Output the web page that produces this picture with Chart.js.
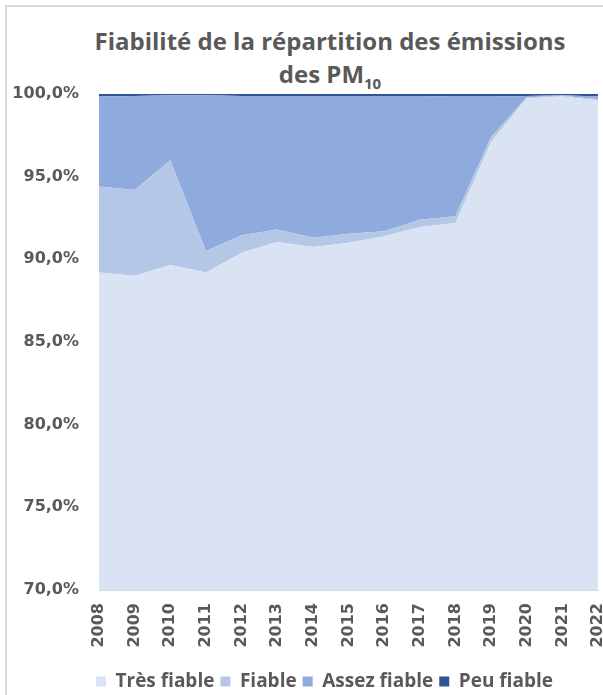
<!DOCTYPE html>
<html>
<head>
<meta charset="utf-8">
<script src="https://cdn.jsdelivr.net/npm/chart.js@4"></script>
<style>
    html, body {
        margin: 0;
        padding: 0;
        width: 603px;
        height: 695px;
        overflow: hidden;
        background: #ffffff;
    }
    .frame {
        position: absolute;
        left: 5px;
        top: 5px;
        width: 700px;
        height: 700px;
        border-top: 2px solid #d9d9d9;
        border-left: 2px solid #d9d9d9;
    }
    .chart-title {
        position: absolute;
        left: 0;
        top: 24px;
        width: 660px;
        text-align: center;
        font-family: 'Open Sans', sans-serif;
        font-weight: 700;
        font-size: 24px;
        line-height: 33px;
        color: #595959;
    }
    .chart-title sub {
        font-size: 15px;
        line-height: 0;
    }
    .chart-box {
        position: absolute;
        left: 7px;
        top: 7px;
        width: 650px;
        height: 694px;
    }
</style>
</head>
<body>
<div class="frame"></div>
<div class="chart-title">Fiabilité de la répartition des émissions<br>des PM<sub>10</sub></div>
<div class="chart-box"><canvas id="fiabiliteChart"></canvas></div>

<script>
const years = ['2008', '2009', '2010', '2011', '2012', '2013', '2014', '2015', '2016', '2017', '2018', '2019', '2020', '2021', '2022'];

// parts en %, empilées
const tresFiable = [89.2, 89.0, 89.65, 89.2, 90.4, 91.05, 90.75, 91.0, 91.4, 91.95, 92.2, 97.1, 99.75, 99.85, 99.6];
const fiable = [5.2, 5.2, 6.35, 1.3, 1.05, 0.75, 0.55, 0.55, 0.3, 0.45, 0.4, 0.3, 0.05, 0.05, 0.1];
const assezFiable = [5.45, 5.68, 3.92, 9.42, 8.43, 8.08, 8.58, 8.33, 8.18, 7.48, 7.25, 2.45, 0.08, 0.02, 0.15];
const peuFiable = [0.15, 0.12, 0.08, 0.08, 0.12, 0.12, 0.12, 0.12, 0.12, 0.12, 0.15, 0.15, 0.12, 0.08, 0.15];

const yTicks = [70, 75, 80, 85, 90, 95, 100];

const textColor = '#595959';

function areaDataset(label, values, color, fill) {
    return {
        label: label,
        data: values,
        backgroundColor: color,
        borderColor: color,
        borderWidth: 0,
        pointRadius: 0,
        tension: 0,
        fill: fill
    };
}

// décale la légende pour la centrer sous tout le cadre
const legendShift = {
    id: 'legendShift',
    afterLayout(chart) {
        chart.legend.left += 22;
        chart.legend.right += 22;
    }
};

const ctx = document.getElementById('fiabiliteChart').getContext('2d');

new Chart(ctx, {
    type: 'line',
    data: {
        labels: years,
        datasets: [
            areaDataset('Très fiable', tresFiable, '#dae3f3', 'origin'),
            areaDataset('Fiable', fiable, '#b4c7e7', '-1'),
            areaDataset('Assez fiable', assezFiable, '#8faadc', '-1'),
            areaDataset('Peu fiable', peuFiable, '#2f5597', '-1')
        ]
    },
    plugins: [legendShift],
    options: {
        responsive: true,
        maintainAspectRatio: false,
        animation: false,
        layout: {
            padding: {
                top: 87,
                left: 0,
                right: 59,
                bottom: 0
            }
        },
        plugins: {
            title: {
                display: false
            },
            tooltip: {
                enabled: false
            },
            legend: {
                position: 'bottom',
                labels: {
                    boxWidth: 10,
                    boxHeight: 10,
                    padding: 6,
                    color: textColor,
                    font: {
                        family: 'Open Sans',
                        weight: 'bold',
                        size: 19
                    }
                }
            }
        },
        scales: {
            x: {
                grid: {
                    display: false,
                    drawTicks: false
                },
                border: {
                    color: '#d9d9d9'
                },
                ticks: {
                    minRotation: 90,
                    maxRotation: 90,
                    padding: 13,
                    color: textColor,
                    font: {
                        family: 'DejaVu Sans',
                        weight: 'bold',
                        size: 16
                    }
                },
                afterFit: function (scale) {
                    scale.height = 76;
                }
            },
            y: {
                stacked: true,
                min: 70,
                max: 100,
                afterBuildTicks: function (scale) {
                    scale.ticks = yTicks.map(v => ({ value: v }));
                },
                grid: {
                    display: false,
                    drawTicks: false
                },
                border: {
                    display: false
                },
                ticks: {
                    padding: 20,
                    color: textColor,
                    font: {
                        family: 'DejaVu Sans',
                        weight: 'bold',
                        size: 16
                    },
                    callback: function (value) {
                        return value.toFixed(1).replace('.', ',') + '%';
                    }
                },
                afterFit: function (scale) {
                    scale.width = 92;
                }
            }
        }
    }
});
</script>
</body>
</html>
